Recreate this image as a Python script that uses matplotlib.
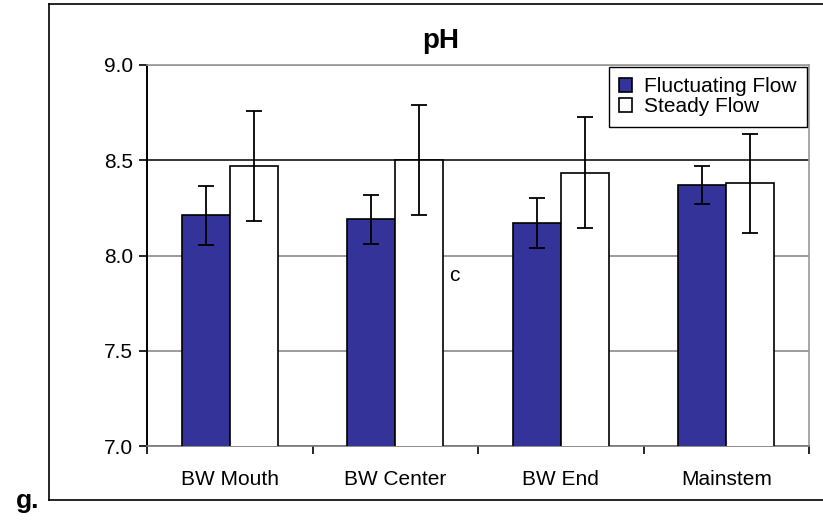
import numpy as np
import matplotlib
matplotlib.use("Agg")
import matplotlib.pyplot as plt
from matplotlib.lines import Line2D

plt.rcParams["font.family"] = ["Liberation Sans", "DejaVu Sans"]

# data
sites = ["BW Mouth", "BW Center", "BW End", "Mainstem"]
fluct_mean = [8.21, 8.19, 8.17, 8.37]
fluct_err = [0.155, 0.13, 0.13, 0.10]
steady_mean = [8.47, 8.50, 8.435, 8.38]
steady_err = [0.29, 0.29, 0.29, 0.26]
yticks = [7.0, 7.5, 8.0, 8.5, 9.0]

fig = plt.figure(figsize=(8.23, 5.23), dpi=100)
ax = fig.add_axes([147 / 823, 1 - 446 / 523, 662 / 823, 381 / 523])

x = np.arange(len(sites))
w = 0.29
err_kw = dict(ecolor="black", elinewidth=1.3, capsize=5.5, capthick=1.3)

ax.bar(x - w / 2, fluct_mean, w, yerr=fluct_err, color="#333399",
       edgecolor="black", linewidth=1.2, error_kw=err_kw,
       label="Fluctuating Flow", zorder=3)
ax.bar(x + w / 2, steady_mean, w, yerr=steady_err, color="white",
       edgecolor="black", linewidth=1.2, error_kw=err_kw,
       label="Steady Flow", zorder=3)

ax.set_ylim(7.0, 9.0)
ax.set_xlim(-0.5, len(sites) - 0.5)
ax.set_yticks(yticks)
ax.set_yticklabels([f"{t:.1f}" for t in yticks])
ax.set_xticks(x)
ax.set_xticklabels(sites)
ax.set_xticks(np.arange(len(sites) + 1) - 0.5, minor=True)
ax.tick_params(axis="x", which="major", length=0, pad=17, labelsize=15)
ax.tick_params(axis="x", which="minor", length=6, width=1.2, direction="out")
ax.tick_params(axis="y", length=6, width=1.2, pad=4, labelsize=15)

ax.yaxis.grid(True, color="#808080", linewidth=1.1, zorder=0)
for val, gl in zip(yticks, ax.get_ygridlines()):
	if val == 8.5:
		gl.set_color("black")
ax.set_axisbelow(True)

ax.spines["left"].set_color("black")
ax.spines["left"].set_linewidth(1.4)
ax.spines["bottom"].set_color("#777777")
ax.spines["bottom"].set_linewidth(1.2)
for s in ["top", "right"]:
	ax.spines[s].set_color("#999999")
	ax.spines[s].set_linewidth(1.2)

leg = ax.legend(loc="upper right", bbox_to_anchor=(0.997, 0.995),
                borderaxespad=0, fontsize=15, frameon=True, fancybox=False,
                framealpha=1, edgecolor="black", handlelength=0.6,
                handleheight=0.6, handletextpad=0.6, borderpad=0.5,
                labelspacing=0.05)
leg.get_frame().set_linewidth(1.0)

fig.text(441 / 823, 1 - 41 / 523, "pH", ha="center", va="center",
         fontsize=20, fontweight="bold")
fig.text(449 / 823, 1 - 281 / 523, "c", ha="left", va="baseline", fontsize=15)
fig.text(16 / 823, 1 - 508 / 523, "g.", ha="left", va="baseline",
         fontsize=19, fontweight="bold")

# outer chart border (right side runs off the picture)
bx0, by0, by1 = 49 / 823, 1 - 500 / 523, 1 - 4 / 523
for xs, ys in [([bx0, 1.0], [by1, by1]), ([bx0, bx0], [by0, by1]),
               ([bx0, 1.0], [by0, by0])]:
	fig.add_artist(Line2D(xs, ys, transform=fig.transFigure,
	                      color="black", linewidth=1.2))

fig.savefig("out.png", dpi=100)
